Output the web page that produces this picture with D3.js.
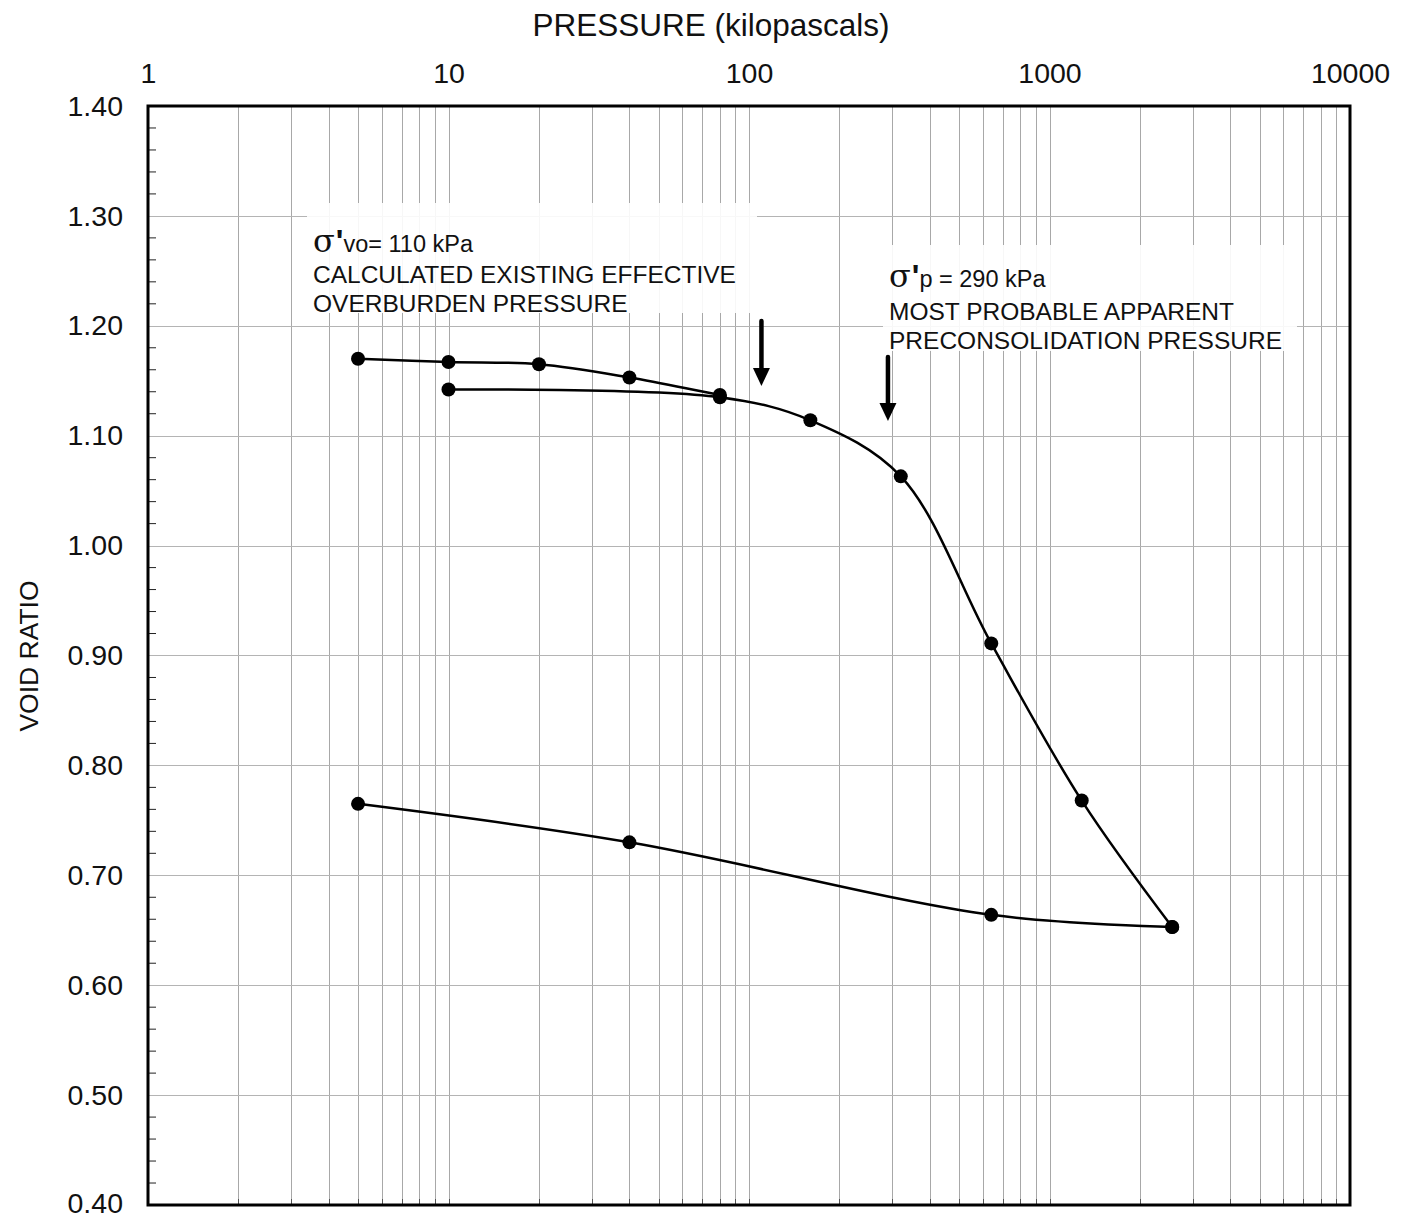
<!DOCTYPE html>
<html>
<head>
<meta charset="utf-8">
<script src="https://cdn.jsdelivr.net/npm/d3@7"></script>
<style>
    body { margin: 0; background: #fff; }
    text { font-family: "Liberation Sans", Arial, sans-serif; fill: #111; }
</style>
</head>
<body>
<div id="chart"></div>
<script>
(function () {

    'use strict';

    // data
    var loadPressure = [5, 10, 20, 40, 80];
    var loadVoid = [1.170, 1.167, 1.165, 1.153, 1.137];

    var reloadPressure = [10, 80, 160, 320, 640, 1280, 2560];
    var reloadVoid = [1.142, 1.135, 1.114, 1.063, 0.911, 0.768, 0.653];

    var unloadPressure = [2560, 640, 40, 5];
    var unloadVoid = [0.653, 0.664, 0.730, 0.765];

    var xTickValues = [1, 10, 100, 1000, 10000];
    var yTickValues = [0.40, 0.50, 0.60, 0.70, 0.80, 0.90, 1.00, 1.10, 1.20, 1.30, 1.40];

    var notePressures = [110, 290];

    var width = 1403;
    var height = 1219;
    var margin = {top: 106, right: 53, bottom: 14, left: 148};

    var svg = d3.select('#chart')
        .append('svg')
        .attr('width', width)
        .attr('height', height);

    var x = d3.scaleLog()
        .domain([1, 10000])
        .range([margin.left, width - margin.right]);

    var y = d3.scaleLinear()
        .domain([0.40, 1.40])
        .range([height - margin.bottom, margin.top]);

    // minor log values for the grid
    var minorX = [];
    [1, 10, 100, 1000].forEach(function (dec) {
        for (var k = 2; k <= 9; k++) {
            minorX.push(dec * k);
        }
    });
    var majorX = [10, 100, 1000];

    var grid = svg.append('g').attr('class', 'grid');

    grid.selectAll('line.vx')
        .data(minorX.concat(majorX))
        .enter()
        .append('line')
        .attr('x1', function (d) { return Math.round(x(d)) + 0.5; })
        .attr('x2', function (d) { return Math.round(x(d)) + 0.5; })
        .attr('y1', y(1.40))
        .attr('y2', y(0.40))
        .attr('stroke', '#a8a8a8')
        .attr('stroke-width', 1);

    grid.selectAll('line.hy')
        .data(yTickValues.slice(1, -1))
        .enter()
        .append('line')
        .attr('x1', x(1))
        .attr('x2', x(10000))
        .attr('y1', function (d) { return Math.round(y(d)) + 0.5; })
        .attr('y2', function (d) { return Math.round(y(d)) + 0.5; })
        .attr('stroke', '#b4b4b4')
        .attr('stroke-width', 1);

    // annotation backgrounds (white boxes over the grid)
    svg.append('rect')
        .attr('x', 307).attr('y', 203)
        .attr('width', 450).attr('height', 110)
        .attr('fill', '#fff').attr('opacity', 0.9);

    svg.append('rect')
        .attr('x', 883).attr('y', 245)
        .attr('width', 414).attr('height', 106)
        .attr('fill', '#fff').attr('opacity', 0.9);

    // minor ticks along the left and bottom edges
    var minorY = d3.range(0.42, 1.40, 0.02).filter(function (v) {
        return Math.abs(Math.round(v * 10) - v * 10) > 0.01;
    });

    svg.selectAll('line.ytick')
        .data(minorY)
        .enter()
        .append('line')
        .attr('x1', x(1))
        .attr('x2', x(1) + 8)
        .attr('y1', function (d) { return y(d); })
        .attr('y2', function (d) { return y(d); })
        .attr('stroke', '#222')
        .attr('stroke-width', 1);

    svg.selectAll('line.xtick')
        .data(minorX.concat(majorX))
        .enter()
        .append('line')
        .attr('x1', function (d) { return Math.round(x(d)) + 0.5; })
        .attr('x2', function (d) { return Math.round(x(d)) + 0.5; })
        .attr('y1', y(0.40))
        .attr('y2', y(0.40) - 6)
        .attr('stroke', '#555')
        .attr('stroke-width', 1);

    // frame
    svg.append('rect')
        .attr('x', x(1))
        .attr('y', y(1.40))
        .attr('width', x(10000) - x(1))
        .attr('height', y(0.40) - y(1.40))
        .attr('fill', 'none')
        .attr('stroke', '#000')
        .attr('stroke-width', 3);

    // axes labels
    var topAxis = d3.axisTop(x)
        .tickValues(xTickValues)
        .tickFormat(d3.format('d'))
        .tickSize(0)
        .tickPadding(23);

    var gTop = svg.append('g')
        .attr('transform', 'translate(0,' + y(1.40) + ')')
        .call(topAxis);
    gTop.select('.domain').remove();
    gTop.selectAll('text')
        .style('font-size', '28.5px')
        .style('font-family', '"Liberation Sans", Arial, sans-serif')
        .attr('fill', '#111');

    var leftAxis = d3.axisLeft(y)
        .tickValues(yTickValues)
        .tickFormat(d3.format('.2f'))
        .tickSize(0)
        .tickPadding(25);

    var gLeft = svg.append('g')
        .attr('transform', 'translate(' + x(1) + ',0)')
        .call(leftAxis);
    gLeft.select('.domain').remove();
    gLeft.selectAll('text')
        .style('font-size', '28.5px')
        .style('font-family', '"Liberation Sans", Arial, sans-serif')
        .attr('fill', '#111');
    // keep the bottom label inside the page
    gLeft.selectAll('.tick')
        .filter(function (d) { return d === 0.40; })
        .select('text')
        .attr('dy', '0.28em');

    svg.append('text')
        .attr('x', 711)
        .attr('y', 36)
        .attr('text-anchor', 'middle')
        .style('font-size', '31.5px')
        .text('PRESSURE (kilopascals)');

    svg.append('text')
        .attr('transform', 'translate(38,656) rotate(-90)')
        .attr('text-anchor', 'middle')
        .style('font-size', '26.5px')
        .text('VOID RATIO');

    // curves
    var line = d3.line()
        .x(function (d) { return x(d[0]); })
        .y(function (d) { return y(d[1]); })
        .curve(d3.curveCatmullRom.alpha(0.5));

    var series = [
        d3.zip(loadPressure, loadVoid),
        d3.zip(reloadPressure, reloadVoid),
        d3.zip(unloadPressure, unloadVoid)
    ];

    svg.selectAll('path.curve')
        .data(series)
        .enter()
        .append('path')
        .attr('d', line)
        .attr('fill', 'none')
        .attr('stroke', '#000')
        .attr('stroke-width', 2.5);

    var allPoints = [].concat(series[0], series[1], series[2]);

    svg.selectAll('circle.pt')
        .data(allPoints)
        .enter()
        .append('circle')
        .attr('cx', function (d) { return x(d[0]); })
        .attr('cy', function (d) { return y(d[1]); })
        .attr('r', 7)
        .attr('fill', '#000');

    // arrows
    var arrowTops = [321, 357];
    var arrowTips = [386, 421];

    notePressures.forEach(function (p, i) {
        var ax = x(p);
        svg.append('line')
            .attr('x1', ax).attr('x2', ax)
            .attr('y1', arrowTops[i]).attr('y2', arrowTips[i] - 12)
            .attr('stroke', '#000')
            .attr('stroke-width', 4.5)
            .attr('stroke-linecap', 'round');
        svg.append('path')
            .attr('d', 'M' + (ax - 8.5) + ',' + (arrowTips[i] - 18) +
                ' L' + (ax + 8.5) + ',' + (arrowTips[i] - 18) +
                ' L' + ax + ',' + arrowTips[i] + ' Z')
            .attr('fill', '#000');
    });

    // annotation text
    var noteSize = '24.5px';

    var note1 = svg.append('g').attr('transform', 'translate(313,0)');
    var t1 = note1.append('text').attr('y', 252).style('font-size', '23.5px').attr('fill', '#222');
    t1.append('tspan').style('font-size', '32px').style('font-family', '"DejaVu Serif", serif').text('σ');
    t1.append('tspan').style('font-size', '32px').style('font-weight', 'bold').attr('dx', 1).text('\'');
    t1.append('tspan').text('vo= 110 kPa');
    note1.append('text').attr('y', 283).style('font-size', noteSize).attr('fill', '#222')
        .text('CALCULATED EXISTING EFFECTIVE');
    note1.append('text').attr('y', 312).style('font-size', noteSize).attr('fill', '#222')
        .text('OVERBURDEN PRESSURE');

    var note2 = svg.append('g').attr('transform', 'translate(889,0)');
    var t2 = note2.append('text').attr('y', 287).style('font-size', '23.5px').attr('fill', '#222');
    t2.append('tspan').style('font-size', '32px').style('font-family', '"DejaVu Serif", serif').text('σ');
    t2.append('tspan').style('font-size', '32px').style('font-weight', 'bold').attr('dx', 1).text('\'');
    t2.append('tspan').text('p = 290 kPa');
    note2.append('text').attr('y', 320).style('font-size', noteSize).attr('fill', '#222')
        .text('MOST PROBABLE APPARENT');
    note2.append('text').attr('y', 349).style('font-size', noteSize).attr('fill', '#222')
        .text('PRECONSOLIDATION PRESSURE');

}());
</script>
</body>
</html>
